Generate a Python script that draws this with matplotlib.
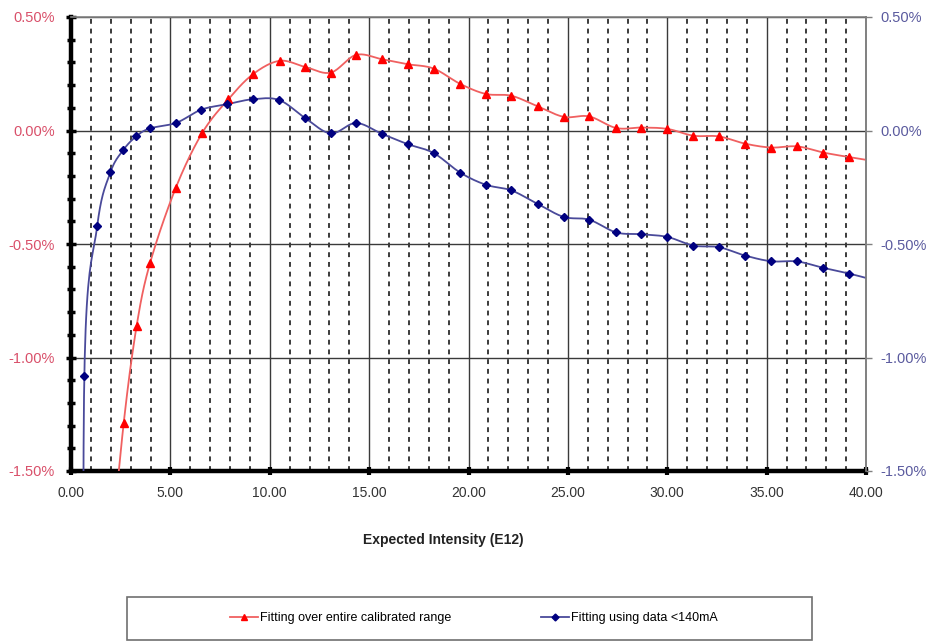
import numpy as np
import matplotlib
matplotlib.use("Agg")
import matplotlib.pyplot as plt
from matplotlib.ticker import MultipleLocator, FuncFormatter
from matplotlib.lines import Line2D
from matplotlib.patches import Rectangle

plt.rcParams['font.family'] = ['Liberation Sans', 'DejaVu Sans']

# ---- data (values in %) ----
red_x = [2.65, 3.30, 3.98, 5.27, 6.60, 7.92, 9.17, 10.50, 11.78, 13.07, 14.34, 15.65,
         16.94, 18.24, 19.59, 20.87, 22.16, 23.49, 24.80, 26.07, 27.43, 28.70, 30.01,
         31.32, 32.60, 33.92, 35.23, 36.54, 37.85, 39.14]
red_y = [-1.290, -0.862, -0.583, -0.253, -0.011, 0.138, 0.249, 0.307, 0.280, 0.255, 0.333,
         0.314, 0.292, 0.273, 0.205, 0.161, 0.153, 0.106, 0.060, 0.062, 0.011, 0.013,
         0.007, -0.023, -0.026, -0.058, -0.075, -0.070, -0.097, -0.117]
# off-chart continuation of the red curve (beyond visible range)
red_head = (1.98, -1.90)
red_tail = (40.50, -0.136)

blue_x = [0.67, 1.32, 1.98, 2.63, 3.29, 3.96, 5.30, 6.56, 7.87, 9.17, 10.48, 11.78, 13.07,
          14.34, 15.65, 16.94, 18.24, 19.59, 20.87, 22.16, 23.49, 24.80, 26.07, 27.43,
          28.70, 30.01, 31.32, 32.60, 33.92, 35.23, 36.54, 37.85, 39.14]
blue_y = [-1.083, -0.420, -0.185, -0.086, -0.025, 0.009, 0.034, 0.092, 0.116, 0.138, 0.134,
          0.055, -0.013, 0.033, -0.015, -0.060, -0.099, -0.186, -0.239, -0.264, -0.324,
          -0.381, -0.393, -0.449, -0.457, -0.469, -0.507, -0.514, -0.551, -0.576, -0.577,
          -0.605, -0.630]
blue_head = (0.67, -3.50)
blue_tail = (40.50, -0.661)

labels = ["Fitting over entire calibrated range", "Fitting using data <140mA"]
x_label = "Expected Intensity (E12)"


def smooth(xs, ys, n=20):
    """Excel-style smoothed line (Catmull-Rom / Bezier with 1/6 tangents)."""
    P = np.column_stack([xs, ys]).astype(float)
    out = [P[0]]
    for i in range(len(P) - 1):
        p0 = P[i - 1] if i > 0 else P[i]
        p1 = P[i]
        p2 = P[i + 1]
        p3 = P[i + 2] if i + 2 < len(P) else P[i + 1]
        c1 = p1 + (p2 - p0) / 6.0
        c2 = p2 - (p3 - p1) / 6.0
        t = np.linspace(0, 1, n)[1:, None]
        seg = ((1 - t) ** 3) * p1 + 3 * ((1 - t) ** 2) * t * c1 + 3 * (1 - t) * t ** 2 * c2 + t ** 3 * p2
        out.extend(seg)
    out = np.array(out)
    return out[:, 0], out[:, 1]


W, H = 931, 642
fig = plt.figure(figsize=(W / 100, H / 100), dpi=100)
L, R, T, B = 71, 866, 17, 471
ax = fig.add_axes([L / W, 1 - B / H, (R - L) / W, (B - T) / H])
ax.set_xlim(0, 40)
ax.set_ylim(-1.5, 0.5)

ax.xaxis.set_major_locator(MultipleLocator(5))
ax.xaxis.set_minor_locator(MultipleLocator(1))
ax.yaxis.set_major_locator(MultipleLocator(0.5))
ax.yaxis.set_minor_locator(MultipleLocator(0.1))
ax.xaxis.set_major_formatter(FuncFormatter(lambda v, p: f"{v:.2f}"))
ax.yaxis.set_major_formatter(FuncFormatter(lambda v, p: f"{v:.2f}%"))

ax.set_axisbelow(True)
ax.grid(which='major', axis='both', color='#3a3a3a', lw=1.0, ls='-')
ax.grid(which='minor', axis='x', color='#3a3a3a', lw=1.4, ls=(0, (2.5, 2.5)))

for s in ('left', 'bottom'):
    ax.spines[s].set_linewidth(3.2)
    ax.spines[s].set_color('black')
for s in ('top', 'right'):
    ax.spines[s].set_linewidth(1.2)
    ax.spines[s].set_color('#808080')

ax.tick_params(axis='y', which='major', direction='inout', length=7, width=2.5,
               labelsize=10.5, labelcolor='#D9506A', pad=8)
ax.tick_params(axis='y', which='minor', direction='inout', length=6, width=2.5)
ax.tick_params(axis='x', which='major', direction='inout', length=6, width=3,
               labelsize=10, labelcolor='#333333', pad=8)
ax.tick_params(axis='x', which='minor', length=0)

# curves
rx, ry = smooth([red_head[0]] + red_x + [red_tail[0]], [red_head[1]] + red_y + [red_tail[1]])
bx, by = smooth([blue_head[0]] + blue_x + [blue_tail[0]], [blue_head[1]] + blue_y + [blue_tail[1]])
ax.plot(rx, ry, color='#F06060', lw=1.3, zorder=3)
ax.plot(bx, by, color='#4A4A9A', lw=1.3, zorder=3)
ax.plot(red_x, red_y, ls='none', marker='^', ms=6, color='#FF0000', zorder=4)
ax.plot(blue_x, blue_y, ls='none', marker='D', ms=4.5, color='#000080', zorder=4)

# right axis
ax2 = ax.twinx()
ax2.set_ylim(-1.5, 0.5)
ax2.yaxis.set_major_locator(MultipleLocator(0.5))
ax2.yaxis.set_major_formatter(FuncFormatter(lambda v, p: f"{v:.2f}%"))
ax2.tick_params(axis='y', which='major', direction='out', length=4, width=1, color='#808080',
                labelsize=10.5, labelcolor='#5A5A9E', pad=6)
for s in ('left', 'bottom'):
    ax2.spines[s].set_visible(False)
ax2.spines['right'].set_linewidth(1.2)
ax2.spines['right'].set_color('#808080')
ax2.spines['top'].set_visible(False)

fig.text(443 / W, 1 - 540 / H, x_label, ha='center', va='center', fontsize=10,
         fontweight='bold', color='#222222')

# legend
fig.patches.append(Rectangle((127 / W, 1 - 640 / H), (812 - 127) / W, (640 - 597) / H,
                             transform=fig.transFigure, fill=False, ec='#707070', lw=1.2))
handles = [Line2D([], [], color='#F06060', lw=1.3, marker='^', ms=5, mfc='#FF0000', mec='#FF0000'),
           Line2D([], [], color='#4A4A9A', lw=1.3, marker='D', ms=3.5, mfc='#000080', mec='#000080')]
fig.legend(handles, labels, loc='center', bbox_to_anchor=(474 / W, 1 - 618 / H), ncol=2,
           frameon=False, fontsize=9, handlelength=2.2, handletextpad=0.2, columnspacing=7.2)

fig.savefig('out.png', dpi=100)
